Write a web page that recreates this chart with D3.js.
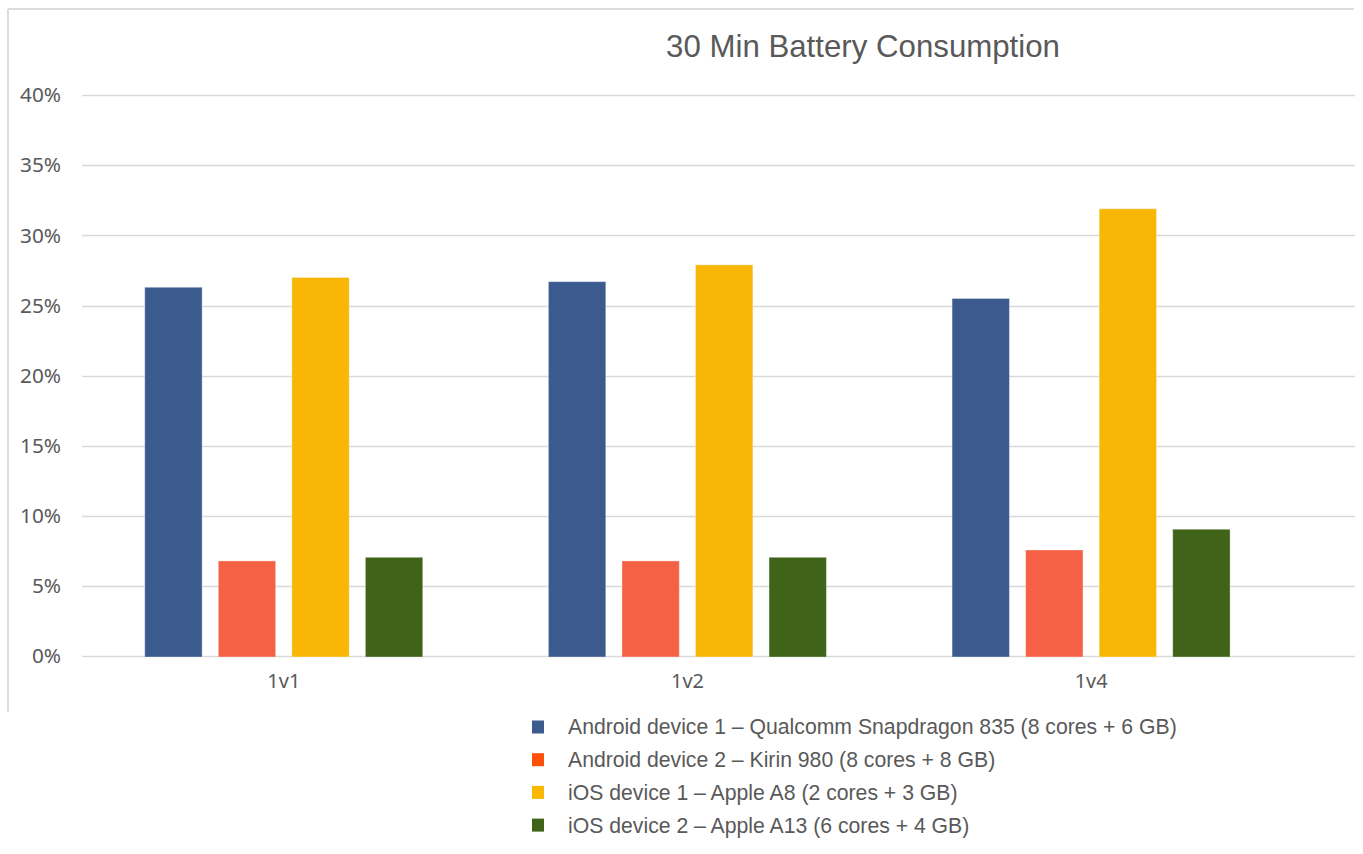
<!DOCTYPE html>
<html><head><meta charset="utf-8">
<script src="https://cdn.jsdelivr.net/npm/d3@7"></script>
<style>
html,body{margin:0;padding:0;background:#fff;}
svg{display:block;}
</style></head>
<body>
<svg id="chart" width="1363" height="854"></svg>
<script>
const categories = ["1v1", "1v2", "1v4"];
const seriesNames = [
  "Android device 1 \u2013 Qualcomm Snapdragon 835 (8 cores + 6 GB)",
  "Android device 2 \u2013 Kirin 980 (8 cores + 8 GB)",
  "iOS device 1 \u2013 Apple A8 (2 cores + 3 GB)",
  "iOS device 2 \u2013 Apple A13 (6 cores + 4 GB)"
];
const android1 = [0.263, 0.267, 0.255];
const android2 = [0.0678, 0.0678, 0.0756];
const ios1 = [0.270, 0.279, 0.319];
const ios2 = [0.0704, 0.0704, 0.0904];
const yTicks = [0, 0.05, 0.10, 0.15, 0.20, 0.25, 0.30, 0.35, 0.40];
const title = "30 Min Battery Consumption";

const barColors = ["#3B5B8F", "#F56145", "#F8B706", "#3E6319"];
const legendColors = ["#3B5B8F", "#FF5208", "#F9B700", "#3E6319"];

const seriesValues = [android1, android2, ios1, ios2];
const svg = d3.select("#chart");

// fit a text selection's font size so that its reference element reaches a target width
function fitWidth(sel, refNode, target) {
  const fs = parseFloat(sel.style("font-size"));
  const w = refNode.getComputedTextLength();
  sel.style("font-size", (fs * target / w).toFixed(2) + "px");
}

// frame shadow
svg.append("line").attr("x1", 8).attr("x2", 1354).attr("y1", 9).attr("y2", 9)
  .attr("stroke", "#dcdcdc").attr("stroke-width", 2);
svg.append("line").attr("x1", 8).attr("x2", 8).attr("y1", 9).attr("y2", 712)
  .attr("stroke", "#dcdcdc").attr("stroke-width", 2);

const y = d3.scaleLinear().domain([0, 0.40]).range([656, 95.2]);
const x0 = d3.scaleBand().domain(categories).range([82, 1293]).paddingInner(0).paddingOuter(0);
const x1 = d3.scaleBand().domain(d3.range(4)).range([62.75, 403.5 - 62.75]).paddingInner(0.22).paddingOuter(0);

// gridlines
svg.append("g").selectAll("line").data(yTicks).join("line")
  .attr("x1", 82).attr("x2", 1355)
  .attr("y1", d => Math.round(y(d)) + 0.5).attr("y2", d => Math.round(y(d)) + 0.5)
  .attr("stroke", "#d9d9d9").attr("stroke-width", 1.5);

// y labels
const yAxis = svg.append("g").attr("transform", "translate(61,0)")
  .call(d3.axisLeft(y).tickValues(yTicks).tickFormat(d3.format(".0%")).tickSize(0).tickPadding(0));
yAxis.select(".domain").remove();
const yText = yAxis.selectAll("text").attr("fill", "#595959")
  .style("font-family", "'Noto Sans', 'Open Sans', sans-serif").style("font-size", "18px");
fitWidth(yText, yText.filter(d => d === 0.40).node(), 41);

// bars
const groups = svg.append("g").selectAll("g").data(categories).join("g")
  .attr("transform", c => `translate(${x0(c)},0)`);
groups.selectAll("rect").data((c, ci) => seriesValues.map((s, si) => ({si, v: s[ci]})))
  .join("rect")
  .attr("x", d => x1(d.si))
  .attr("width", x1.bandwidth())
  .attr("y", d => y(d.v))
  .attr("height", d => y(0) - y(d.v) + 1)
  .attr("fill", d => barColors[d.si])
  .attr("stroke", "rgba(255,255,255,0.35)").attr("stroke-width", 1);

// x labels
const xAxis = svg.append("g").attr("transform", "translate(0,674)")
  .call(d3.axisBottom(x0).tickSize(0).tickPadding(0));
xAxis.select(".domain").remove();
const xText = xAxis.selectAll("text").attr("fill", "#595959").attr("dy", "0.71em")
  .style("font-family", "'Noto Sans', 'Open Sans', sans-serif").style("font-size", "18px");
fitWidth(xText, xText.node(), 33);

// title
const t = svg.append("text").attr("x", 863).attr("y", 57).attr("text-anchor", "middle")
  .attr("fill", "#595959").style("font-family", "'Liberation Sans', Arial, sans-serif")
  .style("font-size", "25px").text(title);
fitWidth(t, t.node(), 394);

// legend
const leg = svg.append("g").selectAll("g").data(seriesNames).join("g")
  .attr("transform", (d, i) => `translate(532,${727 + i * 32.7})`);
leg.append("rect").attr("x", 0).attr("y", -6.5).attr("width", 12).attr("height", 13)
  .attr("fill", (d, i) => legendColors[i]);
const lt = leg.append("text").attr("x", 36).attr("y", 0).attr("dy", "0.35em")
  .attr("fill", "#595959").style("font-family", "'Liberation Sans', Arial, sans-serif")
  .style("font-size", "17.5px").text(d => d);
fitWidth(lt, lt.node(), 609);
</script>
</body></html>
